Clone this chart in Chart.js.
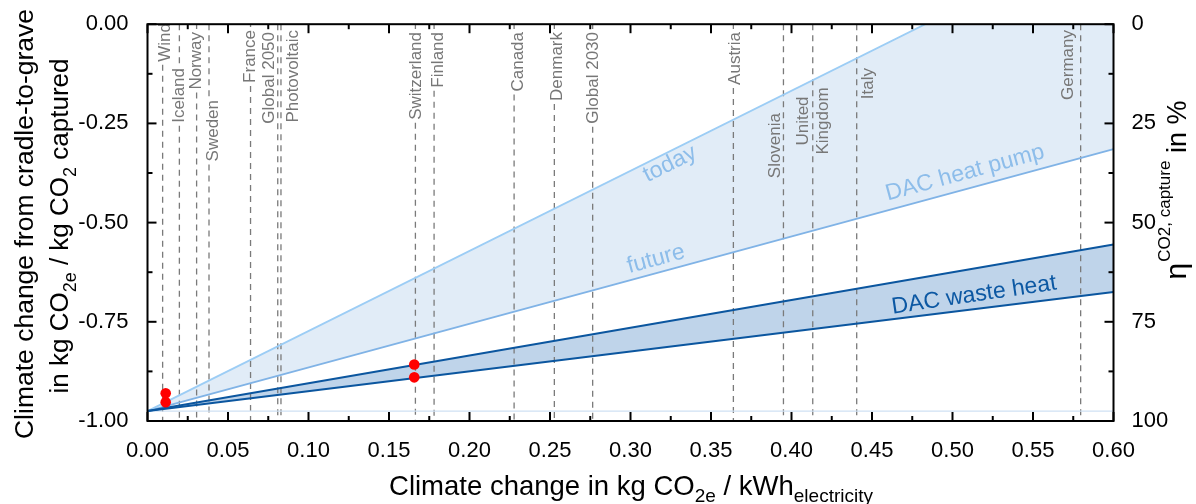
<!DOCTYPE html>
<html>
<head>
<meta charset="utf-8">
<script src="https://cdn.jsdelivr.net/npm/chart.js@4.4.1/dist/chart.umd.min.js"></script>
<style>
html, body { margin: 0; padding: 0; background: #ffffff; }
canvas { display: block; }
</style>
</head>
<body>
<canvas id="c" width="1196" height="504"></canvas>
<script>
// ---------------- DATA ----------------
const xEnds          = [0, 0.6];
const todayEdge      = [-0.975, 0.236];   // upper edge of DAC heat pump band (today)
const futureEdge     = [-0.975, -0.315];  // lower edge of DAC heat pump band (future)
const wasteUpperEdge = [-0.975, -0.555];
const wasteLowerEdge = [-0.975, -0.675];
const baseEdge       = [-0.975, -0.975];

const pointX = [0.0113, 0.0113, 0.1657, 0.1657];
const pointY = [-0.930, -0.9525, -0.8575, -0.890];

const countries = ['Wind', 'Iceland', 'Norway', 'Sweden', 'France', 'Global 2050', 'Photovoltaic',
  'Switzerland', 'Finland', 'Canada', 'Denmark', 'Global 2030', 'Austria', 'Slovenia',
  'United\nKingdom', 'Italy', 'Germany'];
const intensity = [0.0094, 0.0198, 0.0305, 0.0382, 0.0640, 0.0809, 0.0829,
  0.1664, 0.1780, 0.2277, 0.2527, 0.2765, 0.3639, 0.3950,
  0.4132, 0.4405, 0.5796];

const bandLabels = ['today', 'future', 'DAC heat pump', 'DAC waste heat'];

const xTickStep = 0.05;
const yTickStep = 0.25;
const etaTickStep = 25;

// ---------------- LAYOUT (annotation placement) ----------------
const FONT = "'Liberation Sans', Arial, Helvetica, sans-serif";
const labelLayout = [
  {dx: 7.5, top: 23}, {dx: 5, top: 68}, {dx: 4.3, top: 32}, {dx: 8.7, top: 100},
  {dx: 4.3, top: 30}, {dx: -4.2, top: 32}, {dx: 17.5, top: 30}, {dx: 5.7, top: 32},
  {dx: 8.7, top: 32}, {dx: 8.7, top: 32}, {dx: 7.2, top: 32}, {dx: 5.3, top: 32},
  {dx: 6.7, top: 32}, {dx: -3.6, top: 113}, {dx: [-5, 15.3], mid: 121},
  {dx: 15.9, top: 68}, {dx: -7.6, top: 30}
];
const bandLabelPos = [
  {x: 0.3245, y: -0.3525, edges: [todayEdge], color: '#8dbdea'},
  {x: 0.3158, y: -0.5925, edges: [futureEdge], color: '#8dbdea'},
  {x: 0.5078, y: -0.3750, edges: [futureEdge], color: '#8dbdea'},
  {x: 0.5134, y: -0.6830, edges: [wasteUpperEdge, wasteLowerEdge], color: '#0c58a3'}
];

const pts = ys => xEnds.map((x, i) => ({x: x, y: ys[i]}));

function richText(ctx, runs, cx, cy, rot) {
  ctx.save();
  ctx.translate(cx, cy);
  ctx.rotate(rot);
  let total = 0;
  runs.forEach(r => { ctx.font = r.s + 'px ' + FONT; r.w = ctx.measureText(r.t).width + (r.gap || 0); total += r.w; });
  let x = -total / 2;
  ctx.textAlign = 'left';
  ctx.textBaseline = 'alphabetic';
  runs.forEach(r => { ctx.font = r.s + 'px ' + FONT; ctx.fillText(r.t, x, r.dy || 0); x += r.w; });
  ctx.restore();
}

function labelGeometry(ctx, i, lx) {
  const lay = labelLayout[i];
  const lines = countries[i].split('\n');
  ctx.font = '17px ' + FONT;
  return lines.map((ln, j) => {
    const dx = Array.isArray(lay.dx) ? lay.dx[j] : lay.dx;
    const bx = lx + dx;
    const w = ctx.measureText(ln).width;
    let y0, y1;
    if (lay.mid !== undefined) { y0 = lay.mid - w / 2; y1 = lay.mid + w / 2; }
    else { y0 = lay.top; y1 = lay.top + w; }
    return {text: ln, bx: bx, y0: y0, y1: y1, overlap: (lx > bx - 13.5 && lx < bx + 1.5)};
  });
}

const decor = {
  id: 'decor',
  beforeDatasetsDraw(chart) {
    const ctx = chart.ctx;
    const {top, bottom} = chart.chartArea;
    const xs = chart.scales.x;
    ctx.save();
    ctx.strokeStyle = '#7a7a7a';
    ctx.lineWidth = 1.3;
    ctx.setLineDash([6, 5]);
    countries.forEach((name, i) => {
      const lx = xs.getPixelForValue(intensity[i]);
      const geo = labelGeometry(ctx, i, lx);
      let segs = [[top, bottom]];
      geo.forEach(g => {
        if (!g.overlap) return;
        const ns = [];
        segs.forEach(s => {
          if (g.y0 - 3 > s[0]) ns.push([s[0], Math.min(s[1], g.y0 - 3)]);
          if (g.y1 + 3 < s[1]) ns.push([Math.max(s[0], g.y1 + 3), s[1]]);
        });
        segs = ns;
      });
      segs.forEach(s => {
        if (s[1] - s[0] < 1) return;
        ctx.beginPath();
        ctx.moveTo(lx, s[0]);
        ctx.lineTo(lx, s[1]);
        ctx.stroke();
      });
    });
    ctx.restore();
  },
  afterDatasetsDraw(chart) {
    const ctx = chart.ctx;
    const xs = chart.scales.x, ys = chart.scales.y;
    // band labels
    ctx.save();
    ctx.font = '23px ' + FONT;
    ctx.textAlign = 'center';
    ctx.textBaseline = 'middle';
    bandLabelPos.forEach((p, i) => {
      let ang = 0;
      p.edges.forEach(e => {
        const x0 = xs.getPixelForValue(xEnds[0]), y0 = ys.getPixelForValue(e[0]);
        const x1 = xs.getPixelForValue(xEnds[1]), y1 = ys.getPixelForValue(e[1]);
        ang += Math.atan2(y1 - y0, x1 - x0);
      });
      ang /= p.edges.length;
      ctx.save();
      ctx.translate(xs.getPixelForValue(p.x), ys.getPixelForValue(p.y));
      ctx.rotate(ang);
      ctx.fillStyle = p.color;
      ctx.fillText(bandLabels[i], 0, 0);
      ctx.restore();
    });
    ctx.restore();
    // country labels
    ctx.save();
    ctx.fillStyle = '#777777';
    ctx.font = '17px ' + FONT;
    ctx.textBaseline = 'alphabetic';
    countries.forEach((name, i) => {
      const lx = xs.getPixelForValue(intensity[i]);
      labelGeometry(ctx, i, lx).forEach(g => {
        ctx.save();
        ctx.translate(g.bx, g.y0);
        ctx.rotate(-Math.PI / 2);
        ctx.textAlign = 'right';
        ctx.fillText(g.text, 0, 0);
        ctx.restore();
      });
    });
    ctx.restore();
  },
  afterDraw(chart) {
    const ctx = chart.ctx;
    const {left, right, top, bottom} = chart.chartArea;
    const xs = chart.scales.x, ys = chart.scales.y;
    ctx.save();
    ctx.strokeStyle = '#000';
    ctx.lineWidth = 2;
    ctx.setLineDash([]);
    const line = (a, b, c, d) => { ctx.beginPath(); ctx.moveTo(a, b); ctx.lineTo(c, d); ctx.stroke(); };
    const nx = Math.round((xs.max - xs.min) / (xTickStep / 2));
    for (let i = 0; i <= nx; i++) {
      const px = xs.getPixelForValue(xs.min + i * xTickStep / 2);
      const len = i % 2 === 0 ? 9 : 5;
      line(px, bottom, px, bottom - len);
      line(px, top, px, top + len);
    }
    const ny = Math.round((ys.max - ys.min) / (yTickStep / 2));
    for (let i = 0; i <= ny; i++) {
      const py = ys.getPixelForValue(ys.max - i * yTickStep / 2);
      const len = i % 2 === 0 ? 9 : 5;
      line(left, py, left + len, py);
      line(right, py, right - len, py);
    }
    ctx.strokeRect(left, top, right - left, bottom - top);
    ctx.restore();

    // axis titles
    ctx.save();
    ctx.fillStyle = '#000';
    richText(ctx, [
      {t: 'Climate change in kg CO', s: 27.5}, {t: '2e', s: 19, dy: 7},
      {t: ' / kWh', s: 27.5}, {t: 'electricity', s: 19, dy: 7}
    ], 631, 495, 0);
    richText(ctx, [{t: 'Climate change from cradle-to-grave', s: 26.5}], 33, 224, -Math.PI / 2);
    richText(ctx, [
      {t: 'in kg CO', s: 26}, {t: '2e', s: 18, dy: 8}, {t: ' / kg CO', s: 26},
      {t: '2', s: 18, dy: 8}, {t: ' captured', s: 26}
    ], 68, 226, -Math.PI / 2);
    richText(ctx, [
      {t: '\u03B7', s: 30, gap: 1}, {t: 'CO2, capture', s: 17, dy: -16}, {t: ' in %', s: 27}
    ], 1186, 190, -Math.PI / 2);
    ctx.restore();
  }
};

const tickFont = {family: FONT, size: 22};

new Chart(document.getElementById('c'), {
  type: 'line',
  data: {
    datasets: [
      {data: pointX.map((x, i) => ({x: x, y: pointY[i]})), showLine: false, pointRadius: 5.3,
       pointBackgroundColor: '#ff0000', pointBorderWidth: 0, borderColor: 'rgba(0,0,0,0)', fill: false},
      {data: pts(wasteUpperEdge), borderColor: '#0b569f', borderWidth: 2, pointRadius: 0,
       fill: '+1', backgroundColor: '#bfd4ea'},
      {data: pts(wasteLowerEdge), borderColor: '#0b569f', borderWidth: 2, pointRadius: 0, fill: false},
      {data: pts(todayEdge), borderColor: '#9ccdf5', borderWidth: 1.8, pointRadius: 0,
       fill: '+1', backgroundColor: '#e1ecf7'},
      {data: pts(futureEdge), borderColor: '#80b3e6', borderWidth: 1.8, pointRadius: 0, fill: false},
      {data: pts(baseEdge), borderColor: '#cfe1f3', borderWidth: 1.2, pointRadius: 0, fill: false}
    ]
  },
  options: {
    responsive: false,
    animation: false,
    events: [],
    layout: {padding: {top: 21, left: 0, right: 0, bottom: 0}},
    plugins: {
      legend: {display: false},
      tooltip: {enabled: false},
      filler: {drawTime: 'beforeDraw'}
    },
    scales: {
      x: {
        type: 'linear', position: 'bottom', min: 0, max: 0.6,
        grid: {display: false}, border: {display: false},
        ticks: {stepSize: xTickStep, autoSkip: false, maxRotation: 0, padding: 9,
                font: tickFont, color: '#000', callback: v => Number(v).toFixed(2)},
        afterFit: s => { s.height = 83; }
      },
      y: {
        type: 'linear', position: 'left', min: -1, max: 0,
        grid: {display: false}, border: {display: false},
        ticks: {stepSize: yTickStep, autoSkip: false, padding: 11,
                font: tickFont, color: '#000', callback: v => Number(v).toFixed(2)},
        afterFit: s => { s.width = 147.5; }
      },
      y2: {
        type: 'linear', position: 'right', min: 0, max: 100, reverse: true,
        grid: {display: false}, border: {display: false},
        ticks: {stepSize: etaTickStep, autoSkip: false, padding: 10,
                font: tickFont, color: '#000'},
        afterFit: s => { s.width = 82.5; }
      }
    }
  },
  plugins: [decor]
});
</script>
</body>
</html>
